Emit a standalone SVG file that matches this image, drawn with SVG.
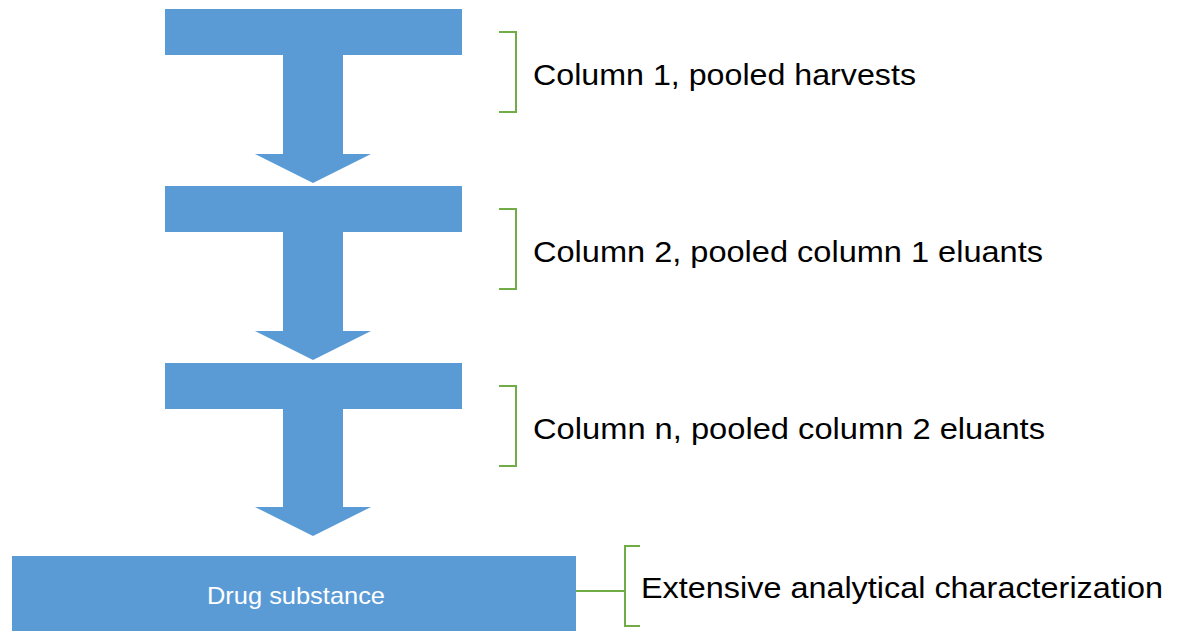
<svg xmlns="http://www.w3.org/2000/svg" width="1178" height="631" viewBox="0 0 1178 631">
  <style>
    .step { fill: #5B9BD5; }
    .brace { fill: none; stroke: #70AD47; stroke-width: 2; }
    .label { font-family: "Liberation Sans", Arial, sans-serif; font-size: 29px; fill: #000; }
    .inner { font-family: "Liberation Sans", Arial, sans-serif; font-size: 24px; fill: #fff; }
  </style>
  <rect width="1178" height="631" fill="#fff"/>

  <!-- purification steps: bar + downward arrow -->
  <g id="step1">
    <path class="step" d="M165,9 H462 V55 H343 V154 H371 L313,183 L255,154 H283 V55 H165 Z"/>
  </g>
  <g id="step2">
    <path class="step" d="M165,186 H462 V232 H343 V331 H371 L313,360 L255,331 H283 V232 H165 Z"/>
  </g>
  <g id="step3">
    <path class="step" d="M165,363 H462 V409 H343 V507 H371 L313,536 L255,507 H283 V409 H165 Z"/>
  </g>
  <g id="drug-substance">
    <rect class="step" x="12" y="556" width="564" height="76"/>
    <text class="inner" x="296" y="604" text-anchor="middle" textLength="178" lengthAdjust="spacingAndGlyphs">Drug substance</text>
  </g>

  <!-- annotations -->
  <g id="note1">
    <path class="brace" d="M499,32 H516 V112 H499"/>
    <text class="label" x="533" y="85" textLength="383" lengthAdjust="spacingAndGlyphs">Column 1, pooled harvests</text>
  </g>
  <g id="note2">
    <path class="brace" d="M499,209 H516 V289 H499"/>
    <text class="label" x="533" y="262" textLength="510" lengthAdjust="spacingAndGlyphs">Column 2, pooled column 1 eluants</text>
  </g>
  <g id="note3">
    <path class="brace" d="M499,386 H516 V466 H499"/>
    <text class="label" x="533" y="439" textLength="512" lengthAdjust="spacingAndGlyphs">Column n, pooled column 2 eluants</text>
  </g>
  <g id="note4">
    <path class="brace" d="M640,546 H625 V626 H640"/>
    <text class="label" x="641" y="598" textLength="522" lengthAdjust="spacingAndGlyphs">Extensive analytical characterization</text>
  </g>

  <g id="connectors">
    <line class="brace" x1="576" y1="591" x2="625" y2="591"/>
  </g>
</svg>
